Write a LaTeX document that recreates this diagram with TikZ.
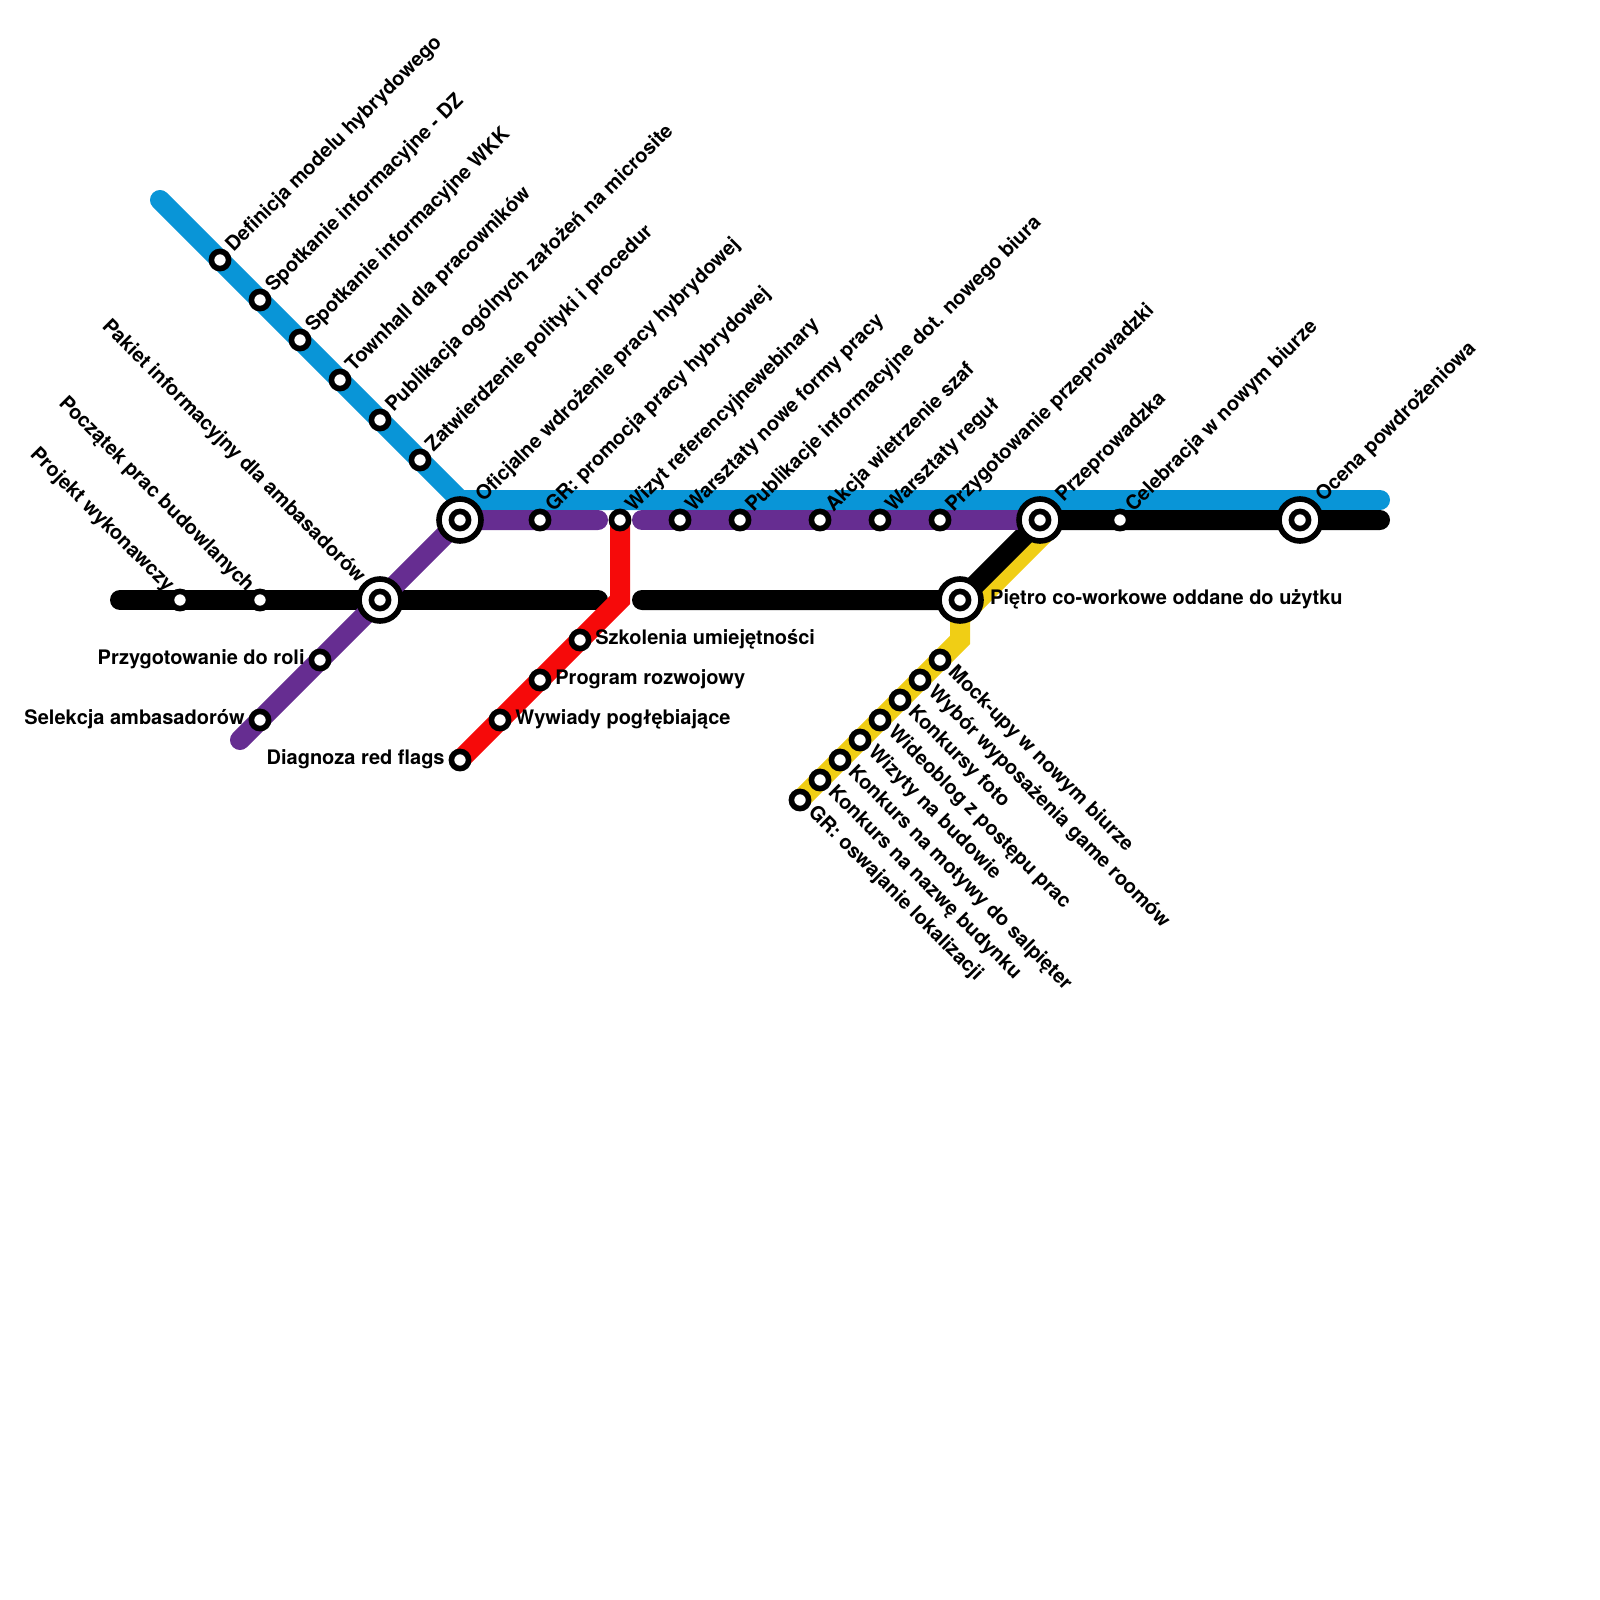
\documentclass[tikz,border=0pt]{standalone}
\usepackage{fontspec}
\setsansfont{TeX Gyre Heros}
\usepackage{tikz}
\usetikzlibrary{positioning,calc}
\definecolor{lineblue}{RGB}{9,149,215}
\definecolor{linepurple}{RGB}{102,45,145}
\definecolor{linered}{RGB}{246,10,10}
\definecolor{lineyellow}{RGB}{240,206,21}
\begin{document}
\begin{tikzpicture}[
  x=0.5pt,y=-0.5pt,
  route/.style={line width=10pt,line cap=round,line join=miter},
  stop/.style={circle,draw=black,fill=white,line width=2.8pt,minimum size=8.6pt,inner sep=0pt,outer sep=1.4pt},
  hub/.style={circle,draw=black,fill=white,line width=2.8pt,minimum size=21pt,inner sep=0pt,outer sep=1.4pt},
  stopname/.style={font=\sffamily\bfseries\fontsize{10}{12}\selectfont,inner sep=1.5pt,text height=1.4ex,text depth=0.4ex},
  upname/.style={stopname,rotate=45,anchor=west},
  hubname/.style={upname,inner sep=2.5pt},
  downname/.style={stopname,rotate=-45,anchor=west},
  backname/.style={stopname,rotate=-45,anchor=east},
  rightname/.style={stopname,anchor=west,inner sep=1.8pt},
  leftname/.style={stopname,anchor=east,inner sep=1.8pt},
]
\useasboundingbox (0,0) rectangle (1600,1600);

% line ends
\coordinate (bluestart) at (160,200);
\coordinate (bluebend) at (460,500);
\coordinate (blueend) at (1380,500);
\coordinate (blackstart) at (120,600);
\coordinate (blackgap) at (598,600);
\coordinate (blackback) at (642,600);
\coordinate (blackend) at (1380,520);
\coordinate (purplestart) at (240,740);
\coordinate (purplegap) at (598,520);
\coordinate (purpleback) at (642,520);
\coordinate (redbend) at (620,600);
\coordinate (yellowbend) at (960,640);
\coordinate (yellowkink) at (960,618);
\coordinate (yellowend) at (1060,518);

% hubs
\coordinate (oficjalne) at (460,520);
\coordinate (pakiet) at (380,600);
\coordinate (pietro) at (960,600);
\coordinate (przeprowadzka) at (1040,520);
\coordinate (ocena) at (1300,520);

\draw[route,lineblue] (bluestart) -- (bluebend) -- (blueend);
\begin{scope}
  \clip (0,541) rectangle (1600,1600);
  \draw[route,lineyellow,line cap=butt] (800,800) -- (yellowbend) -- (yellowkink) -- (yellowend);
\end{scope}
\draw[route,black] (blackstart) -- (blackgap);
\draw[route,black] (blackback) -- (pietro) -- (przeprowadzka) -- (blackend);
\draw[route,linepurple] (purplestart) -- (oficjalne) -- (purplegap);
\draw[route,linepurple] (purpleback) -- (przeprowadzka);
\draw[route,linered,line cap=butt] (620,520) -- (redbend) -- (460,760);

\node[hub] (oficjalneh) at (oficjalne) {};
\node[stop] (oficjalnes) at (oficjalne) {};
\node[hub] (pakieth) at (pakiet) {};
\node[stop] (pakiets) at (pakiet) {};
\node[hub] (pietroh) at (pietro) {};
\node[stop] (pietros) at (pietro) {};
\node[hub] (przeprowadzkah) at (przeprowadzka) {};
\node[stop] (przeprowadzkas) at (przeprowadzka) {};
\node[hub] (ocenah) at (ocena) {};
\node[stop] (ocenas) at (ocena) {};

\node[stop] (definicja) at (220,260) {};
\node[stop] (dz) at (260,300) {};
\node[stop] (wkk) at (300,340) {};
\node[stop] (townhall) at (340,380) {};
\node[stop] (publikacja) at (380,420) {};
\node[stop] (zatwierdzenie) at (420,460) {};

\node[stop] (promocja) at (540,520) {};
\node[stop] (wizyt) at (620,520) {};
\node[stop] (warsztatyf) at (680,520) {};
\node[stop] (publikacje) at (740,520) {};
\node[stop] (akcja) at (820,520) {};
\node[stop] (warsztatyr) at (880,520) {};
\node[stop] (przygotowanie) at (940,520) {};
\node[stop] (celebracja) at (1120,520) {};

\node[stop] (projekt) at (180,600) {};
\node[stop] (poczatek) at (260,600) {};
\node[stop] (rola) at (320,660) {};
\node[stop] (selekcja) at (260,720) {};

\node[stop] (szkolenia) at (580,640) {};
\node[stop] (program) at (540,680) {};
\node[stop] (wywiady) at (500,720) {};
\node[stop] (diagnoza) at (460,760) {};

\node[stop] (mock) at (940,660) {};
\node[stop] (wybor) at (920,680) {};
\node[stop] (foto) at (900,700) {};
\node[stop] (wideoblog) at (880,720) {};
\node[stop] (budowa) at (860,740) {};
\node[stop] (motywy) at (840,760) {};
\node[stop] (nazwa) at (820,780) {};
\node[stop] (oswajanie) at (800,800) {};

% labels
\node[upname] (definicjal) at (definicja.45) {Definicja modelu hybrydowego};
\node[upname] (dzl) at (dz.45) {Spotkanie informacyjne - DZ};
\node[upname] (wkkl) at (wkk.45) {Spotkanie informacyjne WKK};
\node[upname] (townhalll) at (townhall.45) {Townhall dla pracowników};
\node[upname] (publikacjal) at (publikacja.45) {Publikacja ogólnych założeń na microsite};
\node[upname] (zatwierdzeniel) at (zatwierdzenie.45) {Zatwierdzenie polityki i procedur};
\node[hubname] (oficjalnel) at (oficjalneh.45) {Oficjalne wdrożenie pracy hybrydowej};
\node[upname] (promocjal) at (promocja.45) {GR: promocja pracy hybrydowej};
\node[upname] (wizytl) at (wizyt.45) {Wizyt referencyjnewebinary};
\node[upname] (warsztatyfl) at (warsztatyf.45) {Warsztaty nowe formy pracy};
\node[upname] (publikacjel) at (publikacje.45) {Publikacje informacyjne dot. nowego biura};
\node[upname] (akcjal) at (akcja.45) {Akcja wietrzenie szaf};
\node[upname] (warsztatyrl) at (warsztatyr.45) {Warsztaty reguł};
\node[upname] (przygotowaniel) at (przygotowanie.45) {Przygotowanie przeprowadzki};
\node[hubname] (przeprowadzkal) at (przeprowadzkah.45) {Przeprowadzka};
\node[upname] (celebracjal) at (celebracja.45) {Celebracja w nowym biurze};
\node[hubname] (ocenal) at (ocenah.45) {Ocena powdrożeniowa};

\node[backname] (projektl) at (projekt.135) {Projekt wykonawczy};
\node[backname] (poczatekl) at (poczatek.135) {Początek prac budowlanych};
\node[backname] (pakietl) at (pakieth.135) {Pakiet informacyjny dla ambasadorów};

\node[leftname] (rolal) at (rola.west) {Przygotowanie do roli};
\node[leftname] (selekcjal) at (selekcja.west) {Selekcja ambasadorów};
\node[leftname] (diagnozal) at (diagnoza.west) {Diagnoza red flags};

\node[rightname] (szkoleniar) at (szkolenia.east) {Szkolenia umiejętności};
\node[rightname] (programr) at (program.east) {Program rozwojowy};
\node[rightname] (wywiadyr) at (wywiady.east) {Wywiady pogłębiające};
\node[rightname,inner sep=3pt] (pietror) at (pietroh.east) {Piętro co-workowe oddane do użytku};

\node[downname] (mockl) at (mock.-45) {Mock-upy w nowym biurze};
\node[downname] (wyborl) at (wybor.-45) {Wybór wyposażenia game roomów};
\node[downname] (fotol) at (foto.-45) {Konkursy foto};
\node[downname] (wideoblogl) at (wideoblog.-45) {Wideoblog z postępu prac};
\node[downname] (budowal) at (budowa.-45) {Wizyty na budowie};
\node[downname] (motywyl) at (motywy.-45) {Konkurs na motywy do salpięter};
\node[downname] (nazwal) at (nazwa.-45) {Konkurs na nazwę budynku};
\node[downname] (oswajaniel) at (oswajanie.-45) {GR: oswajanie lokalizacji};
\end{tikzpicture}
\end{document}
